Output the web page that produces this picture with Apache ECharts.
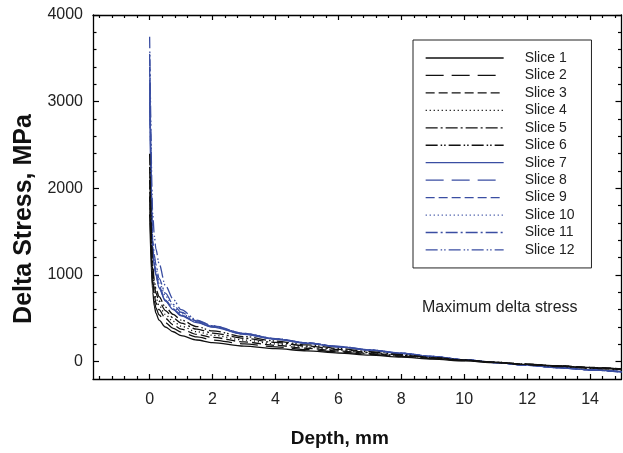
<!DOCTYPE html>
<html><head><meta charset="utf-8">
<script src="https://cdn.jsdelivr.net/npm/echarts@6/dist/echarts.min.js"></script>
<style>html,body{margin:0;padding:0;background:#fff}#c{width:623px;height:453px}</style>
</head><body><div id="c"></div>
<script>
// Depth (mm) sample positions shared by all slices
const depth = [0, 0.1, 0.15, 0.2, 0.3, 0.5, 0.75, 1, 1.5, 2, 3, 4, 5, 6, 7, 8, 9, 10, 11, 12, 13, 14, 15];
// Delta stress (MPa) per slice
const slice1  = [1700,  800,  640,  560,  480, 400, 345, 300, 250, 220, 180, 150, 125, 100,  75, 52, 30,  8, -12, -32, -50, -68, -85];
const slice2  = [1900,  880,  700,  620,  540, 450, 385, 340, 285, 250, 205, 170, 140, 112,  85, 60, 36, 12, -10, -30, -48, -66, -83];
const slice3  = [2100,  950,  760,  680,  600, 500, 425, 375, 315, 280, 228, 188, 155, 123,  93, 66, 40, 15,  -8, -30, -48, -66, -84];
const slice4  = [2000, 1000,  820,  740,  650, 545, 465, 410, 345, 305, 250, 205, 168, 133, 100, 70, 43, 17,  -7, -30, -50, -70, -88];
const slice5  = [2250, 1050,  880,  790,  700, 590, 505, 445, 375, 330, 270, 222, 180, 142, 107, 75, 46, 18,  -7, -32, -53, -73, -92];
const slice6  = [2400, 1100,  930,  840,  750, 630, 545, 480, 405, 355, 290, 238, 193, 152, 115, 80, 49, 20,  -7, -33, -56, -77, -97];
const slice7  = [3000, 1250, 1100, 1000,  850, 700, 600, 530, 450, 400, 315, 258, 212, 170, 133, 95, 58, 22, -10, -40, -68, -93, -115];
const slice8  = [3200, 1280, 1120, 1010,  860, 705, 605, 535, 455, 402, 318, 260, 214, 172, 134, 96, 59, 22, -10, -40, -68, -94, -117];
const slice9  = [3400, 1300, 1130, 1020,  870, 710, 610, 538, 458, 405, 320, 262, 215, 173, 135, 97, 59, 22, -11, -41, -69, -95, -118];
const slice10 = [3300, 1350, 1180, 1070,  920, 760, 640, 555, 465, 410, 322, 263, 216, 174, 135, 97, 60, 23, -11, -41, -69, -95, -118];
const slice11 = [3550, 1400, 1230, 1120,  960, 790, 660, 570, 470, 412, 325, 265, 217, 175, 136, 98, 60, 23, -11, -42, -70, -96, -120];
const slice12 = [3750, 1700, 1450, 1300, 1130, 880, 720, 600, 480, 415, 327, 266, 218, 176, 137, 98, 60, 23, -11, -42, -70, -96, -120];
const sliceNames = ['Slice 1','Slice 2','Slice 3','Slice 4','Slice 5','Slice 6','Slice 7','Slice 8','Slice 9','Slice 10','Slice 11','Slice 12'];
const sliceValues = [slice1, slice2, slice3, slice4, slice5, slice6, slice7, slice8, slice9, slice10, slice11, slice12];
// Axis ticks
const xMajor = [0, 2, 4, 6, 8, 10, 12, 14];
const yMajor = [0, 1000, 2000, 3000, 4000];
const xMin = -1.8, xMax = 15, yMin = -200, yMax = 4000;
const xMinor = [];
for (let i = -4; i <= 37; i++) { const v = Math.round(i * 0.4 * 10) / 10; if (v > xMin && v < xMax && Math.abs(v / 2 - Math.round(v / 2)) > 1e-6) xMinor.push(v); }
const yMinor = [];
for (let v = 200; v < yMax; v += 200) { if (v % 1000 !== 0) yMinor.push(v); }

const BLACK = '#111111', BLUE = '#3a4ea2';
const dashStyles = ['solid', [18, 8], [9, 4], [1.2, 2.8], [12, 3, 2, 3], [12, 3, 1.5, 2, 1.5, 3]];
const FONT = '"Liberation Sans", Arial, sans-serif';

const series = sliceValues.map((vals, i) => ({
  name: sliceNames[i],
  type: 'line',
  xAxisIndex: 0, yAxisIndex: 0,
  symbol: 'none',
  smooth: 0.3,
  smoothMonotone: 'x',
  z: 12 - i,
  lineStyle: { color: i < 6 ? BLACK : BLUE, width: 1.3, type: dashStyles[i % 6] },
  itemStyle: { color: i < 6 ? BLACK : BLUE },
  data: depth.map((d, k) => [d, vals[k]])
}));

function xAx(pos, vals, len, showLine, labels) {
  return {
    type: 'value', position: pos, min: xMin, max: xMax,
    axisLine: { show: showLine, onZero: false, lineStyle: { color: '#000', width: 1.3 } },
    axisTick: { show: true, inside: true, length: len, customValues: vals, lineStyle: { color: '#000', width: 1.2 } },
    axisLabel: labels ? { show: true, customValues: xMajor, margin: 13, fontSize: 16, color: '#222', fontFamily: FONT, formatter: v => String(v) } : { show: false },
    splitLine: { show: false }
  };
}
function yAx(pos, vals, len, showLine, labels) {
  return {
    type: 'value', position: pos, min: yMin, max: yMax,
    axisLine: { show: showLine, onZero: false, lineStyle: { color: '#000', width: 1.3 } },
    axisTick: { show: true, inside: true, length: len, customValues: vals, lineStyle: { color: '#000', width: 1.2 } },
    axisLabel: labels ? { show: true, customValues: yMajor, margin: 10, fontSize: 16, color: '#222', fontFamily: FONT, formatter: v => String(v) } : { show: false },
    splitLine: { show: false }
  };
}

const xAxes = [xAx('bottom', xMajor, 5, true, true), xAx('bottom', xMinor, 3, false, false), xAx('top', xMajor, 5, true, false), xAx('top', xMinor, 3, false, false)];
xAxes[0].name = 'Depth, mm';
xAxes[0].nameLocation = 'middle';
xAxes[0].nameGap = 50;
xAxes[0].nameTextStyle = { fontSize: 19, fontWeight: 'bold', color: '#111', fontFamily: FONT, padding: [0, 35, 0, 0] };
const yAxes = [yAx('left', yMajor, 6, true, true), yAx('left', yMinor, 3.5, false, false), yAx('right', yMajor, 6, true, false), yAx('right', yMinor, 3.5, false, false)];
yAxes[0].name = 'Delta Stress, MPa';
yAxes[0].nameLocation = 'middle';
yAxes[0].nameGap = 56;
yAxes[0].nameTextStyle = { fontSize: 25, fontWeight: 'bold', color: '#111', fontFamily: FONT, padding: [0, 44, 0, 0] };

const chart = echarts.init(document.getElementById('c'), null, { renderer: 'canvas' });
chart.setOption({
  animation: false,
  backgroundColor: '#fff',
  grid: { left: 93, right: 1.5, top: 15, bottom: 69.5, containLabel: false },
  xAxis: xAxes,
  yAxis: yAxes,
  title: {
    text: 'Maximum delta stress', left: 417, top: 295,
    textStyle: { fontSize: 16, fontWeight: 'normal', color: '#222', fontFamily: FONT }
  },
  legend: {
    data: sliceNames, orient: 'vertical', left: 413, top: 40,
    padding: [11, 17, 11, 12], itemWidth: 78, itemHeight: 14, itemGap: 3.45,
    selectedMode: false, borderColor: '#222', borderWidth: 1,
    itemStyle: { opacity: 0, color: 'rgba(0,0,0,0)', borderColor: 'rgba(0,0,0,0)', borderWidth: 0 },
    lineStyle: { width: 1.3 },
    textStyle: { fontSize: 14, color: '#222', fontFamily: FONT, padding: [0, 0, 0, 16] }
  },
  series: series
});
</script></body></html>
